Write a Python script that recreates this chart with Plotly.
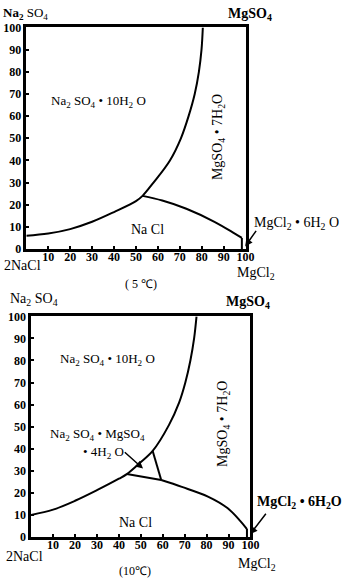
import plotly.graph_objects as go

# ---------------- data (5 °C) ----------------
x5_na10 = [0, 10, 20, 30, 40, 50, 53, 58, 65.5, 70.5, 74, 76.8, 78.7, 79.9, 80.5]
y5_na10 = [6, 7, 9, 12.3, 16.7, 21.6, 24, 30, 40, 50, 60, 70, 80, 90, 100]
x5_nacl_mg7 = [53, 62, 73, 85.8, 94.7, 98.3]
y5_nacl_mg7 = [24, 21.9, 18.2, 12.3, 7.2, 5]
x5_mgcl = [98.3, 98.3]
y5_mgcl = [5, 0]

# ---------------- data (10 °C) ----------------
x10_na10 = [0, 10, 20, 30, 40, 43.6, 49.5, 55.4, 62.8, 67.5, 70.3, 72.6, 74.3, 75.4]
y10_na10 = [10, 12.4, 16.4, 21.2, 26.4, 28.5, 33.5, 39, 50.7, 61, 70, 80, 90, 100]
x10_tri_right = [55.4, 59.3]
y10_tri_right = [39, 25.8]
x10_tri_bottom = [43.6, 59.3]
y10_tri_bottom = [28.5, 25.8]
x10_nacl_mg7 = [59.3, 68.7, 80.6, 89.5, 95.4, 98.4]
y10_nacl_mg7 = [25.8, 22.7, 18.3, 13.1, 7.2, 3.6]
x10_mgcl = [98.4, 98.4]
y10_mgcl = [3.6, 0]

x_ticks = [10, 20, 30, 40, 50, 60, 70, 80, 90, 100]
y_ticks = [0, 10, 20, 30, 40, 50, 60, 70, 80, 90, 100]

FONT = "Liberation Serif"
W, H = 354, 583

fig = go.Figure()

def line(x, y, xa, ya, shape="spline"):
    fig.add_trace(go.Scatter(x=x, y=y, mode="lines", xaxis=xa, yaxis=ya,
                             line=dict(color="black", width=2, shape=shape),
                             hoverinfo="skip", showlegend=False))

line(x5_na10, y5_na10, "x", "y")
line(x5_nacl_mg7, y5_nacl_mg7, "x", "y")
line(x5_mgcl, y5_mgcl, "x", "y", "linear")

line(x10_na10, y10_na10, "x2", "y2")
line(x10_tri_right, y10_tri_right, "x2", "y2", "linear")
line(x10_tri_bottom, y10_tri_bottom, "x2", "y2", "linear")
line(x10_nacl_mg7, y10_nacl_mg7, "x2", "y2")
line(x10_mgcl, y10_mgcl, "x2", "y2", "linear")

common = dict(range=[0, 100], showline=True, linewidth=2.5, linecolor="black",
              mirror=True, showgrid=False, zeroline=False, ticks="inside",
              ticklen=3, tickwidth=1.5, tickcolor="black",
              tickfont=dict(family=FONT, size=12, color="black", weight="bold"))

def px_x(p):
    return p / W

def px_y(p):
    return 1 - p / H

fig.update_layout(
    width=W, height=H, margin=dict(l=0, r=0, t=0, b=0),
    paper_bgcolor="white", plot_bgcolor="white", showlegend=False,
    xaxis=dict(domain=[px_x(27), px_x(252)], anchor="y", tickvals=x_ticks,
               ticklabelstandoff=-5, **common),
    yaxis=dict(domain=[px_y(248), px_y(21)], anchor="x", tickvals=y_ticks, **common),
    xaxis2=dict(domain=[px_x(32), px_x(257)], anchor="y2", tickvals=x_ticks,
                ticklabelstandoff=-5, **common),
    yaxis2=dict(domain=[px_y(543), px_y(317)], anchor="x2", tickvals=y_ticks, **common),
)

anns = []

def lab(text, xp, yp, size=13, angle=0):
    anns.append(dict(text=text, x=px_x(xp), y=px_y(yp), xref="paper", yref="paper",
                     showarrow=False, textangle=angle, xanchor="center", yanchor="middle",
                     font=dict(family=FONT, size=size, color="black")))

# top chart labels
lab("<b>Na<sub>2</sub></b> SO<sub>4</sub>", 26, 7, 13)
lab("<b>MgSO<sub>4</sub></b>", 257, 8, 14)
lab("Na<sub>2</sub> SO<sub>4</sub> • 10H<sub>2</sub> O", 101, 97, 13)
lab("MgSO<sub>4</sub> • 7H<sub>2</sub>O", 225, 133, 14, angle=-90)
lab("Na Cl", 151, 228, 14)
lab("MgCl<sub>2</sub> • 6H<sub>2</sub> O", 304, 222, 14)
lab("2NaCl", 23, 265, 14)
lab("MgCl<sub>2</sub>", 263, 273, 14)
lab("( 5 ℃)", 145, 284, 12)

# bottom chart labels
lab("Na<sub>2</sub> SO<sub>4</sub>", 35, 300, 14)
lab("<b>MgSO<sub>4</sub></b>", 254, 303, 14)
lab("Na<sub>2</sub> SO<sub>4</sub> • 10H<sub>2</sub> O", 110, 361, 13)
lab("MgSO<sub>4</sub> • 7H<sub>2</sub>O", 230, 427, 14, angle=-90)
lab("Na<sub>2</sub> SO<sub>4</sub> • MgSO<sub>4</sub>", 100, 438, 13)
lab("• 4H<sub>2</sub> O", 106, 456, 13)
lab("Na Cl", 139, 528, 14)
lab("<b>MgCl<sub>2</sub> • 6H<sub>2</sub>O</b>", 307, 508, 14)
lab("2NaCl", 25, 563, 14)
lab("MgCl<sub>2</sub>", 264, 571, 14)
lab("(10℃)", 139, 578, 12)

# arrows
anns.append(dict(x=51, y=31, xref="x2", yref="y2", ax=42, ay=39, axref="x2", ayref="y2",
                 text="", showarrow=True, arrowhead=2, arrowsize=1, arrowwidth=1.5,
                 arrowcolor="black"))
anns.append(dict(x=99.8, y=1.2, xref="x", yref="y", ax=12, ay=-17,
                 text="", showarrow=True, arrowhead=2, arrowsize=1, arrowwidth=1.5,
                 arrowcolor="black"))
anns.append(dict(x=99.8, y=1.2, xref="x2", yref="y2", ax=17, ay=-22,
                 text="", showarrow=True, arrowhead=2, arrowsize=1, arrowwidth=1.5,
                 arrowcolor="black"))

fig.update_layout(annotations=anns)
fig.write_html("out.html")
